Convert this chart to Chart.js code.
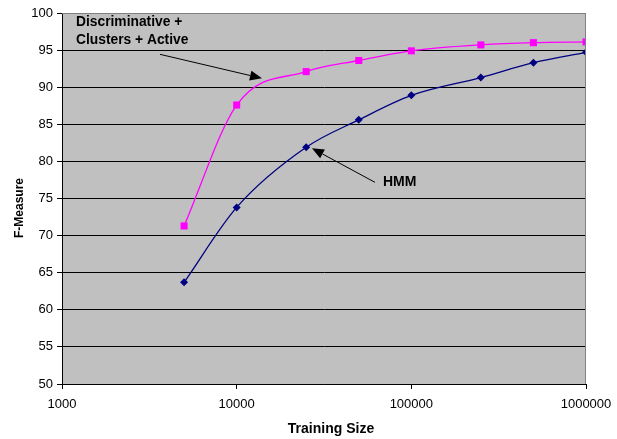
<!DOCTYPE html>
<html>
<head>
<meta charset="utf-8">
<script src="https://cdn.jsdelivr.net/npm/chart.js@4/dist/chart.umd.min.js"></script>
<style>
  html, body { margin: 0; padding: 0; background: #ffffff; }
  #wrap { width: 617px; height: 439px; }
</style>
</head>
<body>
<div id="wrap"><canvas id="c" width="617" height="439"></canvas></div>
<script>
// ---- data ----
const trainingSizes = [5000, 10000, 25000, 50000, 100000, 250000, 500000, 1000000];
const discriminativeValues = [71.3, 87.6, 92.1, 93.6, 94.9, 95.7, 96.0, 96.1];
const hmmValues = [63.7, 73.8, 81.9, 85.6, 88.9, 91.3, 93.3, 94.7];
const xTickValues = [1000, 10000, 100000, 1000000];
const yTickValues = [50, 55, 60, 65, 70, 75, 80, 85, 90, 95, 100];
const seriesNames = ['Discriminative + Clusters + Active', 'HMM'];
const xTitle = 'Training Size';
const yTitle = 'F-Measure';
// annotation anchors in data space
const note1Lines = ['Discriminative +', 'Clusters + Active'];
const note1Anchor = { x: 1203, y: [98.75, 96.32] };
const arrow1 = { from: { x: 3640, y: 94.43 }, to: { x: 13960, y: 91.2 } };
const note2Text = 'HMM';
const note2Anchor = { x: 68800, y: 77.18 };
const arrow2 = { from: { x: 61900, y: 77.18 }, to: { x: 26980, y: 81.77 } };

const FONT = '"Liberation Sans", Arial, sans-serif';

const plotBg = {
  id: 'plotBg',
  beforeDraw(chart) {
    const { ctx, chartArea: a } = chart;
    ctx.save();
    ctx.fillStyle = '#c0c0c0';
    ctx.fillRect(a.left, a.top, a.right - a.left, a.bottom - a.top);
    ctx.restore();
  },
  afterDatasetsDraw(chart) {
    const { ctx, chartArea: a } = chart;
    ctx.save();
    ctx.strokeStyle = '#808080';
    ctx.lineWidth = 1;
    ctx.beginPath();
    ctx.moveTo(a.left, a.top + 0.5);
    ctx.lineTo(a.right - 0.5, a.top + 0.5);
    ctx.lineTo(a.right - 0.5, a.bottom);
    ctx.stroke();
    ctx.restore();
  }
};

function drawArrow(ctx, x1, y1, x2, y2) {
  const ang = Math.atan2(y2 - y1, x2 - x1);
  const len = 12, half = 5;
  const bx = x2 - len * Math.cos(ang), by = y2 - len * Math.sin(ang);
  ctx.beginPath();
  ctx.moveTo(x1, y1);
  ctx.lineTo(bx, by);
  ctx.stroke();
  ctx.beginPath();
  ctx.moveTo(x2, y2);
  ctx.lineTo(bx + half * Math.sin(ang), by - half * Math.cos(ang));
  ctx.lineTo(bx - half * Math.sin(ang), by + half * Math.cos(ang));
  ctx.closePath();
  ctx.fill();
}

const notes = {
  id: 'notes',
  afterDraw(chart) {
    const { ctx, chartArea: a } = chart;
    const xs = chart.scales.x, ys = chart.scales.y;
    const px = v => xs.getPixelForValue(v), py = v => ys.getPixelForValue(v);
    ctx.save();
    ctx.fillStyle = '#000';
    ctx.strokeStyle = '#000';
    ctx.lineWidth = 1;
    ctx.font = 'bold 13.8px ' + FONT;
    ctx.textBaseline = 'middle';
    ctx.textAlign = 'left';
    note1Lines.forEach((t, i) => ctx.fillText(t, px(note1Anchor.x), py(note1Anchor.y[i])));
    ctx.font = 'bold 14px ' + FONT;
    ctx.fillText(note2Text, px(note2Anchor.x), py(note2Anchor.y));
    drawArrow(ctx, px(arrow1.from.x), py(arrow1.from.y), px(arrow1.to.x), py(arrow1.to.y));
    drawArrow(ctx, px(arrow2.from.x), py(arrow2.from.y), px(arrow2.to.x), py(arrow2.to.y));
    // axis titles
    ctx.textAlign = 'center';
    ctx.font = 'bold 14px ' + FONT;
    ctx.fillText(xTitle, (a.left + a.right) / 2 + 7, 429);
    ctx.translate(19.5, 208);
    ctx.rotate(-Math.PI / 2);
    ctx.font = 'bold 12px ' + FONT;
    ctx.fillText(yTitle, 0, 0);
    ctx.restore();
  }
};

new Chart(document.getElementById('c'), {
  type: 'line',
  data: {
    datasets: [
      {
        label: seriesNames[0],
        data: trainingSizes.map((x, i) => ({ x, y: discriminativeValues[i] })),
        borderColor: '#ff00ff',
        backgroundColor: '#ff00ff',
        borderWidth: 1.3,
        pointStyle: 'rect',
        pointRadius: 5,
        pointBorderWidth: 0,
        cubicInterpolationMode: 'monotone'
      },
      {
        label: seriesNames[1],
        data: trainingSizes.map((x, i) => ({ x, y: hmmValues[i] })),
        borderColor: '#000080',
        backgroundColor: '#000080',
        borderWidth: 1.3,
        pointStyle: 'rectRot',
        pointRadius: 4,
        pointBorderWidth: 0,
        cubicInterpolationMode: 'monotone'
      }
    ]
  },
  options: {
    responsive: false,
    animation: false,
    devicePixelRatio: 1,
    layout: { padding: { left: 0, right: 31, top: 13, bottom: 0 } },
    plugins: { legend: { display: false }, tooltip: { enabled: false } },
    scales: {
      x: {
        type: 'logarithmic',
        min: 1000,
        max: 1000000,
        afterBuildTicks(s) { s.ticks = xTickValues.map(v => ({ value: v })); },
        afterFit(s) { s.height = 55; s.paddingLeft = 0; s.paddingRight = 0; },
        ticks: {
          color: '#000',
          font: { family: FONT, size: 13 },
          padding: 8,
          maxRotation: 0,
          autoSkip: false,
          callback: v => String(v)
        },
        grid: { drawOnChartArea: false, drawTicks: true, tickLength: 5, color: '#000', tickColor: '#000' },
        border: { display: true, color: '#000', width: 1 },
        title: { display: false }
      },
      y: {
        type: 'linear',
        min: 50,
        max: 100,
        afterBuildTicks(s) { s.ticks = yTickValues.map(v => ({ value: v })); },
        afterFit(s) { s.width = 62; s.paddingTop = 0; s.paddingBottom = 0; },
        ticks: { color: '#000', font: { family: FONT, size: 13 }, padding: 4, autoSkip: false },
        grid: {
          color: c => (c.tick && c.tick.value === 100 ? '#808080' : '#000'),
          tickColor: '#000',
          tickLength: 5,
          lineWidth: 1
        },
        border: { display: true, color: '#000', width: 1 },
        title: { display: false }
      }
    }
  },
  plugins: [plotBg, notes]
});
</script>
</body>
</html>
